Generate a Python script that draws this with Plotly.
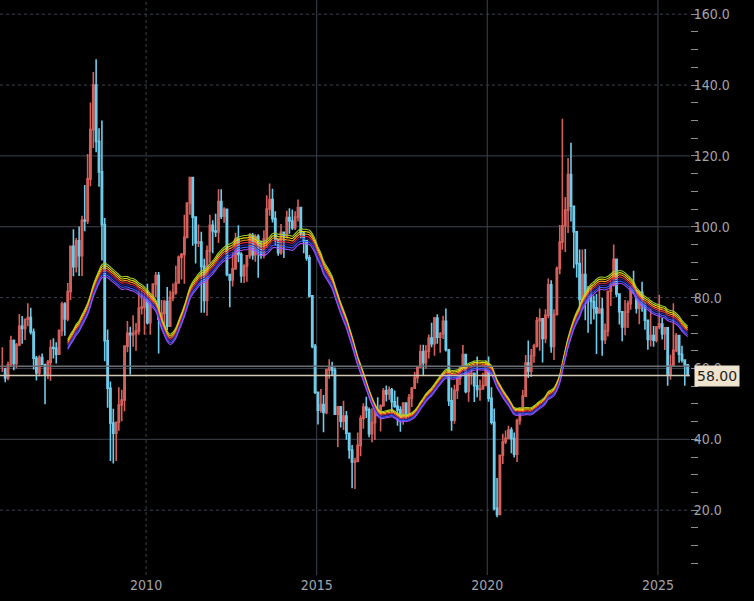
import pandas as pd
import plotly.graph_objects as go

# monthly crude oil candles, Oct 2005 .. Nov 2025
start_month = "2005-10-01"

closes = [
    59.8, 57.3, 61.0,
    67.9, 61.4, 66.6, 71.9, 71.3, 73.9, 74.4, 70.3, 62.9, 58.7, 63.1, 61.1,
    58.1, 61.8, 65.9, 65.7, 64.0, 70.7, 78.2, 74.0, 81.7, 94.5, 88.7, 96.0,
    91.8, 101.8, 101.6, 113.5, 127.4, 140.0, 124.1, 115.5, 100.6, 67.8, 54.4, 44.6,
    41.7, 44.8, 49.7, 51.1, 66.3, 69.9, 69.5, 69.9, 70.6, 77.0, 77.3, 79.4,
    72.9, 79.7, 83.8, 86.2, 73.9, 75.6, 78.9, 71.9, 80.0, 81.4, 84.1, 91.4,
    92.2, 97.0, 106.7, 113.9, 102.7, 95.4, 95.7, 88.8, 79.2, 93.2, 100.4, 98.8,
    98.5, 107.1, 103.0, 104.9, 86.5, 85.0, 88.1, 96.5, 92.2, 86.2, 88.9, 91.8,
    97.5, 92.1, 97.2, 93.5, 92.0, 96.6, 105.0, 107.7, 102.3, 96.4, 92.7, 98.4,
    97.5, 102.6, 101.6, 99.7, 102.7, 105.4, 98.2, 96.0, 91.2, 80.5, 66.2, 53.3,
    48.2, 49.8, 47.6, 59.6, 60.3, 59.5, 47.1, 49.2, 45.1, 46.6, 41.7, 37.0,
    33.6, 33.8, 38.3, 45.9, 49.1, 48.3, 41.6, 44.7, 48.2, 46.9, 49.4, 53.7,
    52.8, 54.0, 50.6, 49.3, 48.3, 46.0, 50.2, 47.2, 51.7, 54.4, 57.4, 60.4,
    64.7, 61.6, 64.9, 68.6, 67.0, 74.2, 68.8, 69.8, 73.3, 65.3, 50.9, 45.4,
    53.8, 57.2, 60.1, 63.9, 53.5, 58.5, 58.6, 55.1, 54.1, 54.2, 55.2, 61.1,
    51.6, 44.8, 20.5, 18.8, 35.5, 39.3, 40.3, 42.6, 40.2, 35.8, 45.3, 48.5,
    52.2, 61.5, 59.2, 63.6, 66.3, 73.5, 74.0, 68.5, 75.0, 83.6, 66.2, 75.2,
    88.2, 95.7, 100.3, 104.7, 114.7, 105.8, 98.6, 89.6, 79.5, 86.5, 80.6, 80.3,
    78.9, 77.1, 75.7, 76.8, 68.1, 70.6, 81.8, 83.6, 90.8, 81.0, 76.0, 71.7,
    75.9, 78.3, 83.2, 81.9, 77.0, 81.5, 77.9, 73.6, 68.2, 69.3, 68.0, 71.7,
    72.5, 69.8, 71.5, 58.2, 60.8, 65.1, 69.3, 64.0, 62.4, 61.0, 58.0,
]

highs = [
    66.0, 60.2, 61.9,
    69.2, 68.2, 67.2, 75.4, 74.8, 74.0, 78.4, 77.1, 71.3, 63.5, 63.7, 64.2,
    61.1, 62.4, 68.1, 68.5, 67.4, 71.0, 78.8, 78.7, 84.1, 94.5, 99.3, 96.8,
    100.1, 103.1, 111.8, 120.5, 135.1, 143.7, 147.3, 127.8, 130.0, 102.5, 71.0, 56.3,
    48.6, 44.8, 54.7, 54.0, 66.4, 73.4, 71.8, 75.0, 72.8, 82.0, 82.0, 81.4,
    83.9, 80.5, 83.9, 87.2, 87.2, 79.3, 79.4, 83.0, 81.9, 84.0, 89.0, 91.9,
    92.6, 103.4, 106.9, 114.0, 113.9, 102.6, 100.6, 98.6, 91.0, 94.7, 103.4, 101.8,
    103.7, 110.6, 110.6, 105.5, 103.0, 86.2, 92.9, 98.3, 100.4, 92.8, 89.4, 91.9,
    98.2, 98.2, 97.9, 97.9, 96.1, 99.0, 108.9, 112.2, 110.7, 104.4, 95.5, 100.8,
    98.5, 104.5, 105.2, 104.9, 104.4, 107.7, 105.0, 98.7, 95.5, 92.0, 80.0, 66.9,
    53.3, 54.2, 52.5, 59.9, 62.6, 61.9, 60.3, 49.3, 48.4, 50.9, 48.0, 41.9,
    38.4, 34.8, 41.9, 46.8, 50.2, 52.0, 49.0, 48.8, 49.0, 51.9, 49.9, 54.5,
    55.2, 54.9, 54.5, 53.8, 52.0, 49.3, 50.4, 50.4, 52.8, 54.8, 59.0, 60.5,
    66.7, 66.7, 66.6, 69.6, 72.9, 74.5, 75.3, 70.3, 74.9, 76.9, 65.0, 54.6,
    55.4, 57.8, 60.7, 66.6, 63.8, 58.8, 60.9, 57.9, 63.4, 56.9, 58.8, 62.3,
    63.4, 54.7, 48.7, 29.1, 35.5, 41.6, 42.5, 43.8, 43.4, 41.9, 45.8, 49.0,
    53.9, 63.8, 67.9, 65.5, 67.0, 74.5, 76.9, 71.6, 76.7, 85.4, 84.9, 76.7,
    88.8, 100.5, 130.5, 108.4, 119.4, 123.7, 105.3, 97.6, 93.6, 93.6, 93.7, 83.3,
    82.7, 80.6, 81.0, 83.5, 79.9, 72.7, 82.0, 84.9, 95.0, 90.8, 79.6, 76.2,
    79.3, 79.2, 83.1, 87.6, 80.1, 82.0, 84.5, 78.8, 72.0, 77.0, 72.0, 72.0,
    80.8, 74.3, 71.6, 71.2, 63.9, 78.4, 70.0, 69.3, 66.4, 62.6, 61.0,
]

lows = [
    59.0, 56.1, 56.7,
    61.8, 59.5, 60.0, 66.3, 67.0, 68.0, 71.9, 69.6, 59.7, 56.6, 57.8, 60.9,
    49.9, 57.0, 56.5, 62.8, 61.4, 64.0, 69.1, 69.2, 73.3, 79.3, 86.0, 87.1,
    86.1, 86.1, 98.7, 100.8, 111.4, 122.2, 121.0, 111.3, 90.5, 62.0, 48.9, 33.9,
    33.2, 33.9, 42.4, 45.1, 47.9, 64.6, 58.3, 66.1, 65.0, 69.5, 75.2, 69.5,
    72.4, 69.5, 78.1, 80.1, 64.2, 71.7, 71.6, 70.8, 72.8, 79.0, 80.8, 86.0,
    85.1, 83.9, 97.1, 103.4, 94.6, 89.6, 94.3, 75.7, 75.7, 74.9, 89.8, 92.5,
    97.1, 95.4, 102.2, 101.1, 86.0, 77.3, 83.1, 87.9, 90.0, 84.2, 84.1, 84.5,
    91.0, 90.7, 90.1, 85.6, 91.0, 91.1, 94.0, 103.1, 101.2, 94.7, 91.8, 92.1,
    91.2, 96.7, 98.0, 99.1, 99.1, 101.5, 96.6, 92.5, 90.4, 80.0, 65.7, 52.8,
    44.2, 47.5, 42.0, 47.1, 57.1, 58.0, 47.1, 37.8, 43.3, 42.6, 39.9, 34.5,
    26.2, 26.0, 33.5, 35.2, 43.0, 46.0, 40.6, 39.2, 39.8, 46.6, 42.2, 49.9,
    50.7, 51.2, 47.1, 48.9, 43.8, 42.1, 44.1, 45.6, 46.5, 49.1, 55.0, 55.8,
    60.1, 58.1, 59.9, 62.8, 66.0, 63.6, 67.0, 64.4, 68.3, 64.8, 49.4, 42.4,
    44.4, 51.4, 55.3, 59.9, 53.0, 50.6, 55.4, 50.5, 51.9, 50.9, 55.0, 55.7,
    50.6, 44.2, 20.0, 18.0, 24.0, 33.0, 38.7, 40.0, 36.1, 34.9, 33.6, 44.1,
    47.2, 52.6, 57.3, 57.6, 61.6, 65.9, 65.0, 61.7, 67.1, 74.2, 64.4, 62.4,
    75.1, 86.6, 93.5, 92.9, 98.2, 101.5, 88.3, 85.7, 76.3, 76.7, 73.6, 70.1,
    72.5, 73.8, 64.1, 75.5, 63.6, 66.9, 69.0, 77.6, 83.1, 80.1, 72.4, 67.7,
    69.4, 71.4, 76.6, 81.0, 75.5, 72.5, 76.0, 70.9, 65.3, 66.2, 66.1, 67.3,
    71.1, 68.2, 65.2, 55.1, 56.8, 64.0, 64.6, 61.6, 61.7, 55.1, 57.8,
]

last_price = 58.0
ribbon_colors = ["#9acd32", "#e8d800", "#ff9a1a", "#d8283c", "#2a2a9a", "#3a5cff", "#a24cff"]
ribbon_shift = [0.021, 0.014, 0.007, 0.0, -0.007, -0.014, -0.021]
year_ticks = ["2010-01-01", "2015-01-01", "2020-01-01", "2025-01-01"]
year_labels = ["2010", "2015", "2020", "2025"]
price_ticks = [20, 40, 60, 80, 100, 120, 140, 160]

df = pd.DataFrame({"close": closes, "high": highs, "low": lows})
df["date"] = pd.date_range(start_month, periods=len(df), freq="MS") + pd.Timedelta(days=14)
df["open"] = df["close"].shift(1).fillna(df["close"].iloc[0])
df["high"] = df[["high", "open", "close"]].max(axis=1)
df["low"] = df[["low", "open", "close"]].min(axis=1)
ma = df["close"].rolling(24).mean()

fig = go.Figure()

fig.add_trace(go.Candlestick(
    x=df["date"], open=df["open"], high=df["high"], low=df["low"], close=df["close"],
    increasing=dict(line=dict(color="#d4605c", width=1.6), fillcolor="#d4605c"),
    decreasing=dict(line=dict(color="#6fcbea", width=1.6), fillcolor="#6fcbea"),
    whiskerwidth=0, showlegend=False,
))

for c, s in zip(ribbon_colors, ribbon_shift):
    fig.add_trace(go.Scatter(x=df["date"], y=ma * (1 + s), mode="lines",
                             line=dict(color=c, width=1.1, shape="spline"), showlegend=False))

# grid: solid ones and dotted ones
grid = "#3c424e"
for t in ["2015-01-01", "2020-01-01", "2025-01-01"]:
    fig.add_vline(x=t, line=dict(color=grid, width=1), layer="below")
fig.add_vline(x="2010-01-01", line=dict(color=grid, width=1, dash="dot"), layer="below")
for v in price_ticks:
    dash = "dot" if v in (20, 80, 140, 160) else "solid"
    fig.add_hline(y=v, line=dict(color=grid, width=1, dash=dash), layer="below")

fig.add_hline(y=60.6, line=dict(color="#6a6e78", width=1.5))
fig.add_hline(y=last_price, line=dict(color="#cfc6b4", width=1.5))

fig.add_annotation(x=1, xref="paper", y=last_price, yref="y", text="58.00",
                   showarrow=False, xanchor="left", xshift=4,
                   bgcolor="#efe4cf", font=dict(color="#222", size=14, family="DejaVu Sans"),
                   borderpad=2)

fig.update_layout(
    width=754, height=601,
    paper_bgcolor="black", plot_bgcolor="black",
    margin=dict(l=0, r=64, t=0, b=26),
    xaxis=dict(range=["2005-09-20", "2025-12-10"], tickvals=year_ticks, ticktext=year_labels,
               showgrid=False, zeroline=False, rangeslider=dict(visible=False),
               tickfont=dict(color="#a0a4ac", size=14, family="DejaVu Sans Condensed")),
    yaxis=dict(side="right", range=[1.7, 164], tickvals=price_ticks, tickformat=".1f",
               showgrid=False, zeroline=False,
               ticks="outside", ticklen=0,
               minor=dict(dtick=5, ticks="outside", ticklen=7, tickcolor="#8a8e96"),
               tickfont=dict(color="#a0a4ac", size=14, family="DejaVu Sans Condensed")),
    font=dict(family="DejaVu Sans"),
)

fig.write_html("out.html", config={"displayModeBar": False},
               post_script="document.body.style.margin='0';document.body.style.background='black';")
